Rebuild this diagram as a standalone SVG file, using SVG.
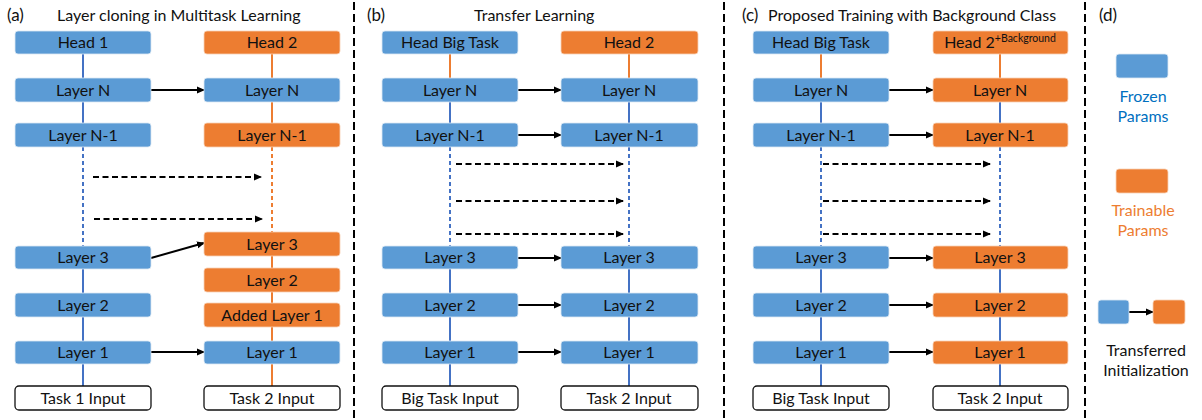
<svg xmlns="http://www.w3.org/2000/svg" width="1202" height="420" viewBox="0 0 1202 420">
<style>
text{font-family:"Lato","Open Sans","Liberation Sans",sans-serif;fill:#111}
.lbl{font-size:16px;text-anchor:middle}
.ttl{font-size:16px}
.b{fill:#5B9BD5;stroke:#dce8f4;stroke-width:0.8}
.o{fill:#ED7D31;stroke:#f7d0b5;stroke-width:0.8}
.w{fill:#fff;stroke:#111;stroke-width:1.3}
.vb{stroke:#4472C4;stroke-width:2;fill:none}
.vo{stroke:#ED7D31;stroke-width:2;fill:none}
.vd{stroke-dasharray:4 3}
.arr{stroke:#000;stroke-width:2;fill:none;marker-end:url(#ah)}
.darr{stroke:#000;stroke-width:2;fill:none;stroke-dasharray:6 3.5;marker-end:url(#ah)}
.div{stroke:#000;stroke-width:2;stroke-dasharray:8 4;fill:none}
</style>
<defs>
<marker id="ah" markerWidth="8" markerHeight="8" refX="7" refY="4" orient="auto" markerUnits="userSpaceOnUse">
<path d="M0,0.5 L8,4 L0,7.5 Z" fill="#000"/>
</marker>
</defs>

<g id="dividers">
<line class="div" x1="354" y1="2" x2="354" y2="420"/>
<line class="div" x1="724" y1="2" x2="724" y2="420"/>
<line class="div" x1="1085" y1="2" x2="1085" y2="420"/>
</g>

<g id="titles">
<text class="ttl" x="7" y="21" style="font-size:17px">(a)</text>
<text class="ttl" x="57" y="21">Layer cloning in Multitask Learning</text>
<text class="ttl" x="367" y="21" style="font-size:17px">(b)</text>
<text class="ttl" x="474" y="21">Transfer Learning</text>
<text class="ttl" x="742" y="21" style="font-size:17px">(c)</text>
<text class="ttl" x="768" y="21">Proposed Training with Background Class</text>
<text class="ttl" x="1099" y="21" style="font-size:17px">(d)</text>
</g>

<g id="connectors">
<line class="vb" x1="83" y1="54" x2="83" y2="147"/>
<line class="vb vd" x1="83" y1="147" x2="83" y2="246"/>
<line class="vb" x1="83" y1="269" x2="83" y2="386"/>
<line class="vo" x1="272" y1="54" x2="272" y2="123"/>
<line class="vo vd" x1="272" y1="147" x2="272" y2="232"/>
<line class="vo" x1="272" y1="256" x2="272" y2="386"/>
<line class="vo" x1="450" y1="54" x2="450" y2="78"/>
<line class="vb" x1="450" y1="102" x2="450" y2="123"/>
<line class="vb vd" x1="450" y1="147" x2="450" y2="246"/>
<line class="vb" x1="450" y1="269" x2="450" y2="386"/>
<line class="vo" x1="629" y1="54" x2="629" y2="78"/>
<line class="vb" x1="629" y1="102" x2="629" y2="123"/>
<line class="vb vd" x1="629" y1="147" x2="629" y2="246"/>
<line class="vb" x1="629" y1="269" x2="629" y2="386"/>
<line class="vo" x1="821" y1="54" x2="821" y2="78"/>
<line class="vb" x1="821" y1="102" x2="821" y2="123"/>
<line class="vb vd" x1="821" y1="147" x2="821" y2="246"/>
<line class="vb" x1="821" y1="269" x2="821" y2="386"/>
<line class="vo" x1="1000" y1="54" x2="1000" y2="78"/>
<line class="vb" x1="1000" y1="102" x2="1000" y2="123"/>
<line class="vb vd" x1="1000" y1="147" x2="1000" y2="246"/>
<line class="vb" x1="1000" y1="269" x2="1000" y2="386"/>

<line class="arr" x1="151" y1="90" x2="204" y2="90"/>
<line class="darr" x1="93" y1="177" x2="261" y2="177"/>
<line class="darr" x1="94" y1="219" x2="262" y2="219"/>
<line class="arr" x1="151" y1="258" x2="204" y2="243"/>
<line class="arr" x1="151" y1="352" x2="204" y2="352"/>
<line class="arr" x1="518" y1="90" x2="561" y2="90"/>
<line class="arr" x1="518" y1="135" x2="561" y2="135"/>
<line class="darr" x1="456" y1="164" x2="623" y2="164"/>
<line class="darr" x1="456" y1="201" x2="623" y2="201"/>
<line class="darr" x1="456" y1="234" x2="623" y2="234"/>
<line class="arr" x1="518" y1="258" x2="561" y2="258"/>
<line class="arr" x1="518" y1="305" x2="561" y2="305"/>
<line class="arr" x1="518" y1="352" x2="561" y2="352"/>
<line class="arr" x1="889" y1="90" x2="933" y2="90"/>
<line class="arr" x1="889" y1="135" x2="933" y2="135"/>
<line class="darr" x1="823" y1="164" x2="990" y2="164"/>
<line class="darr" x1="823" y1="201" x2="990" y2="201"/>
<line class="darr" x1="823" y1="234" x2="990" y2="234"/>
<line class="arr" x1="889" y1="258" x2="933" y2="258"/>
<line class="arr" x1="889" y1="305" x2="933" y2="305"/>
<line class="arr" x1="889" y1="352" x2="933" y2="352"/>
<line class="arr" x1="1129" y1="312" x2="1153" y2="312"/>
</g>

<g id="a-head1"><rect class="b" x="15" y="31" width="136" height="23" rx="3"/><text class="lbl" x="83" y="48">Head 1</text></g>
<g id="a-layerN-l"><rect class="b" x="15" y="78" width="136" height="24" rx="3"/><text class="lbl" x="83" y="95.5">Layer N</text></g>
<g id="a-layerN1-l"><rect class="b" x="15" y="123" width="136" height="24" rx="3"/><text class="lbl" x="83" y="140.5">Layer N-1</text></g>
<g id="a-layer3-l"><rect class="b" x="15" y="246" width="136" height="23" rx="3"/><text class="lbl" x="83" y="263">Layer 3</text></g>
<g id="a-layer2-l"><rect class="b" x="15" y="293" width="136" height="24" rx="3"/><text class="lbl" x="83" y="310.5">Layer 2</text></g>
<g id="a-layer1-l"><rect class="b" x="15" y="341" width="136" height="23" rx="3"/><text class="lbl" x="83" y="358">Layer 1</text></g>
<g id="a-input1"><rect class="w" x="15" y="386" width="136" height="24" rx="4"/><text class="lbl" x="83" y="403.5">Task 1 Input</text></g>

<g id="a-head2"><rect class="o" x="204" y="31" width="136" height="23" rx="3"/><text class="lbl" x="272" y="48">Head 2</text></g>
<g id="a-layerN-r"><rect class="b" x="204" y="78" width="136" height="24" rx="3"/><text class="lbl" x="272" y="95.5">Layer N</text></g>
<g id="a-layerN1-r"><rect class="o" x="204" y="123" width="136" height="24" rx="3"/><text class="lbl" x="272" y="140.5">Layer N-1</text></g>
<g id="a-layer3-r"><rect class="o" x="204" y="232" width="136" height="24" rx="3"/><text class="lbl" x="272" y="249.5">Layer 3</text></g>
<g id="a-layer2-r"><rect class="o" x="204" y="268" width="136" height="24" rx="3"/><text class="lbl" x="272" y="285.5">Layer 2</text></g>
<g id="a-added1-r"><rect class="o" x="204" y="303" width="136" height="24" rx="3"/><text class="lbl" x="272" y="320.5">Added Layer 1</text></g>
<g id="a-layer1-r"><rect class="b" x="204" y="341" width="136" height="23" rx="3"/><text class="lbl" x="272" y="358">Layer 1</text></g>
<g id="a-input2"><rect class="w" x="204" y="386" width="136" height="24" rx="4"/><text class="lbl" x="272" y="403.5">Task 2 Input</text></g>

<g id="b-headbig"><rect class="b" x="382" y="31" width="136" height="23" rx="3"/><text class="lbl" x="450" y="48">Head Big Task</text></g>
<g id="b-layerN-l"><rect class="b" x="382" y="78" width="136" height="24" rx="3"/><text class="lbl" x="450" y="95.5">Layer N</text></g>
<g id="b-layerN1-l"><rect class="b" x="382" y="123" width="136" height="24" rx="3"/><text class="lbl" x="450" y="140.5">Layer N-1</text></g>
<g id="b-layer3-l"><rect class="b" x="382" y="246" width="136" height="23" rx="3"/><text class="lbl" x="450" y="263">Layer 3</text></g>
<g id="b-layer2-l"><rect class="b" x="382" y="293" width="136" height="24" rx="3"/><text class="lbl" x="450" y="310.5">Layer 2</text></g>
<g id="b-layer1-l"><rect class="b" x="382" y="341" width="136" height="23" rx="3"/><text class="lbl" x="450" y="358">Layer 1</text></g>
<g id="b-inputbig"><rect class="w" x="382" y="386" width="136" height="24" rx="4"/><text class="lbl" x="450" y="403.5">Big Task Input</text></g>

<g id="b-head2"><rect class="o" x="561" y="31" width="137" height="23" rx="3"/><text class="lbl" x="629" y="48">Head 2</text></g>
<g id="b-layerN-r"><rect class="b" x="561" y="78" width="137" height="24" rx="3"/><text class="lbl" x="629" y="95.5">Layer N</text></g>
<g id="b-layerN1-r"><rect class="b" x="561" y="123" width="137" height="24" rx="3"/><text class="lbl" x="629" y="140.5">Layer N-1</text></g>
<g id="b-layer3-r"><rect class="b" x="561" y="246" width="137" height="23" rx="3"/><text class="lbl" x="629" y="263">Layer 3</text></g>
<g id="b-layer2-r"><rect class="b" x="561" y="293" width="137" height="24" rx="3"/><text class="lbl" x="629" y="310.5">Layer 2</text></g>
<g id="b-layer1-r"><rect class="b" x="561" y="341" width="137" height="23" rx="3"/><text class="lbl" x="629" y="358">Layer 1</text></g>
<g id="b-input2"><rect class="w" x="561" y="386" width="137" height="24" rx="4"/><text class="lbl" x="629" y="403.5">Task 2 Input</text></g>

<g id="c-headbig"><rect class="b" x="753" y="31" width="136" height="23" rx="3"/><text class="lbl" x="821" y="48">Head Big Task</text></g>
<g id="c-layerN-l"><rect class="b" x="753" y="78" width="136" height="24" rx="3"/><text class="lbl" x="821" y="95.5">Layer N</text></g>
<g id="c-layerN1-l"><rect class="b" x="753" y="123" width="136" height="24" rx="3"/><text class="lbl" x="821" y="140.5">Layer N-1</text></g>
<g id="c-layer3-l"><rect class="b" x="753" y="246" width="136" height="23" rx="3"/><text class="lbl" x="821" y="263">Layer 3</text></g>
<g id="c-layer2-l"><rect class="b" x="753" y="293" width="136" height="24" rx="3"/><text class="lbl" x="821" y="310.5">Layer 2</text></g>
<g id="c-layer1-l"><rect class="b" x="753" y="341" width="136" height="23" rx="3"/><text class="lbl" x="821" y="358">Layer 1</text></g>
<g id="c-inputbig"><rect class="w" x="753" y="386" width="136" height="24" rx="4"/><text class="lbl" x="821" y="403.5">Big Task Input</text></g>

<g id="c-head2"><rect class="o" x="933" y="31" width="135" height="23" rx="3"/><text class="lbl" x="1000" y="48">Head 2<tspan font-size="10.5" dy="-6">+Background</tspan></text></g>
<g id="c-layerN-r"><rect class="o" x="933" y="78" width="135" height="24" rx="3"/><text class="lbl" x="1000" y="95.5">Layer N</text></g>
<g id="c-layerN1-r"><rect class="o" x="933" y="123" width="135" height="24" rx="3"/><text class="lbl" x="1000" y="140.5">Layer N-1</text></g>
<g id="c-layer3-r"><rect class="o" x="933" y="246" width="135" height="23" rx="3"/><text class="lbl" x="1000" y="263">Layer 3</text></g>
<g id="c-layer2-r"><rect class="o" x="933" y="293" width="135" height="24" rx="3"/><text class="lbl" x="1000" y="310.5">Layer 2</text></g>
<g id="c-layer1-r"><rect class="o" x="933" y="341" width="135" height="23" rx="3"/><text class="lbl" x="1000" y="358">Layer 1</text></g>
<g id="c-input2"><rect class="w" x="933" y="386" width="135" height="24" rx="4"/><text class="lbl" x="1000" y="403.5">Task 2 Input</text></g>

<g id="d-frozen"><rect class="b" x="1116" y="54" width="52" height="24" rx="3"/>
<text class="lbl" x="1143" y="102" style="fill:#0070C0">Frozen</text>
<text class="lbl" x="1143" y="122" style="fill:#0070C0">Params</text></g>
<g id="d-trainable"><rect class="o" x="1116" y="169" width="52" height="24" rx="3"/>
<text class="lbl" x="1143" y="216" style="fill:#ED7D31">Trainable</text>
<text class="lbl" x="1143" y="236" style="fill:#ED7D31">Params</text></g>
<g id="d-transfer"><rect class="b" x="1098" y="300" width="31" height="24" rx="3"/><rect class="o" x="1153" y="300" width="32" height="24" rx="3"/>
<text class="lbl" x="1146" y="356">Transferred</text>
<text class="lbl" x="1146" y="376">Initialization</text></g>
</svg>
